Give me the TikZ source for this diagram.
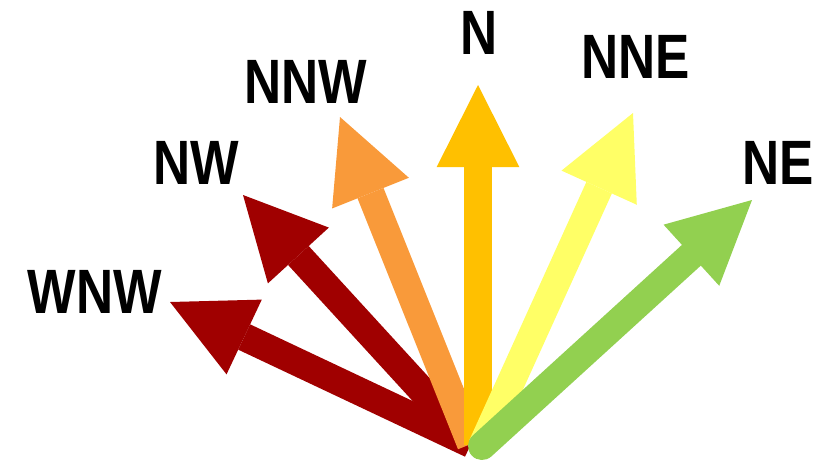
\documentclass[tikz,border=0pt]{standalone}
\usepackage{fontspec}
\newfontfamily\compassfont{Liberation Sans}[FakeStretch=0.82]
\usepackage{tikz}
\usetikzlibrary{arrows.meta}
\definecolor{WindRed}{HTML}{A00000}
\definecolor{WindOrange}{HTML}{F99A3A}
\definecolor{WindGold}{HTML}{FFC000}
\definecolor{WindYellow}{HTML}{FFFF66}
\definecolor{WindGreen}{HTML}{92D050}

\begin{document}
\begin{tikzpicture}[x=0.75pt,y=-0.75pt,
    wind/.style={line width=21pt,-{Triangle[length=61.5pt,width=62pt,line width=0pt]}},
    dirlabel/.style={font=\compassfont\bfseries\fontsize{47}{47}\selectfont,inner sep=0pt}]
  \useasboundingbox (0,0) rectangle (830,461);
  % where the shafts start
  \coordinate (o) at (471,444);
  \coordinate (oN) at (478,445);
  \coordinate (oE) at (482,446);
  % arrow tips
  \coordinate (tWNW) at (170,302);
  \coordinate (tNW) at (243,195);
  \coordinate (tNNW) at (340,117);
  \coordinate (tN) at (478,85);
  \coordinate (tNNE) at (633,113);
  \coordinate (tNE) at (752,200);
  % arrows, back to front
  \draw[wind,WindRed] (o) -- (tWNW);
  \draw[wind,WindRed] (o) -- (tNW);
  \draw[wind,WindOrange] (o) -- (tNNW);
  \draw[wind,WindGold] (oN) -- (tN);
  \draw[wind,WindYellow] (oE) -- (tNNE);
  \draw[wind,WindGreen,line cap=round] (oE) -- (tNE);
  % labels
  \node[dirlabel] (WNW) at (95,292) {WNW};
  \node[dirlabel] (NW) at (196,163) {NW};
  \node[dirlabel] (NNW) at (306,82) {NNW};
  \node[dirlabel] (N) at (479,33) {N};
  \node[dirlabel] (NNE) at (636,57) {NNE};
  \node[dirlabel] (NE) at (778,163) {NE};
\end{tikzpicture}
\end{document}
